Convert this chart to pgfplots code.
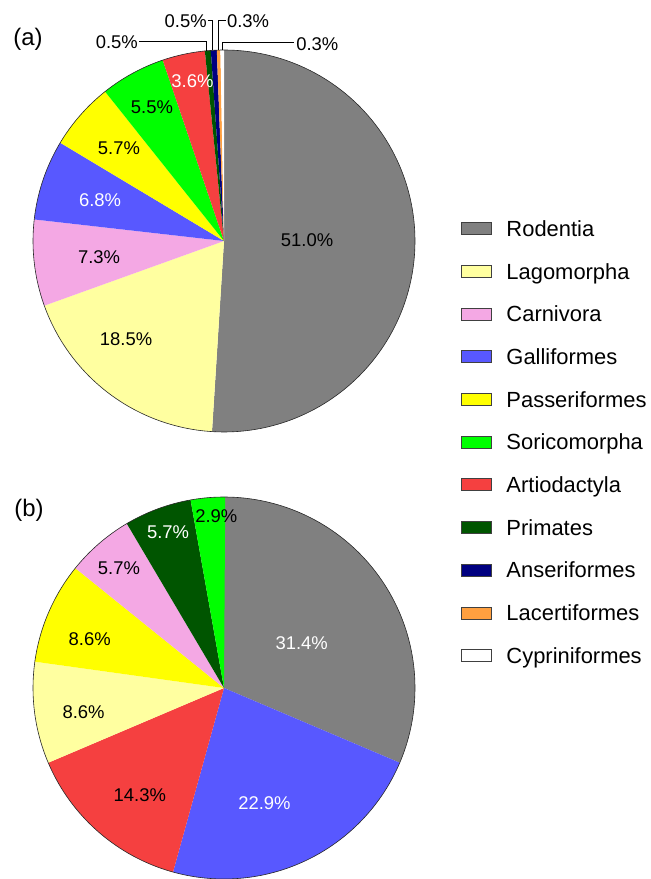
\documentclass[border=0pt]{standalone}
\usepackage{fontspec}
\setmainfont{Liberation Sans}
\usepackage{pgfplots}
\pgfplotsset{compat=1.18}
\definecolor{cRod}{RGB}{128,128,128}
\definecolor{cLag}{RGB}{255,255,160}
\definecolor{cCar}{RGB}{244,168,228}
\definecolor{cGal}{RGB}{88,88,255}
\definecolor{cPas}{RGB}{255,255,0}
\definecolor{cSor}{RGB}{0,255,0}
\definecolor{cArt}{RGB}{245,64,64}
\definecolor{cPri}{RGB}{0,85,0}
\definecolor{cAns}{RGB}{0,0,128}
\definecolor{cLac}{RGB}{255,160,64}
\definecolor{cCyp}{RGB}{255,255,255}
% running total of percentages; each slice is drawn from its percentage
\newcommand\cum{0}
\newcommand\slice[2]{%
  \pgfmathsetmacro\aA{90-3.6*\cum}%
  \pgfmathsetmacro\cumnew{\cum+#2}%
  \pgfmathsetmacro\aB{90-3.6*\cumnew}%
  \xdef\cum{\cumnew}%
  \edef\tmp{\noexpand\addplot[fill=#1,draw=none,domain=\aB:\aA,samples=90] ({cos(x)},{sin(x)}) -- (axis cs:0,0) -- cycle;}%
  \tmp}
\newcommand\lab{\fontsize{18.5}{22}\selectfont}
\begin{document}
\begin{tikzpicture}
\useasboundingbox (0,0) rectangle (651bp,879bp);
\pgfplotsset{pie/.style={hide axis, clip=false, x=191bp, y=191bp,
  xmin=-1, xmax=1, ymin=-1, ymax=1, anchor=origin}}
% ---------------- (a) ----------------
\begin{axis}[pie, at={(224bp,638bp)},
  legend style={draw=none, fill=none, at={(1.1204,0.5592)}, anchor=north west,
    inner sep=0pt, outer sep=0pt, row sep=22.5bp, column sep=15bp,
    font=\fontsize{22}{26}\selectfont,
    nodes={inner sep=0pt, text height=18bp, text depth=2.2bp}},
  legend cell align=left,
  legend image code/.code={\draw[#1,draw=black!75,line width=0.5pt] (0bp,-6bp) rectangle (30bp,6bp);}]
\gdef\cum{0}
\slice{cRod}{51.0} \addlegendentry{Rodentia}
\slice{cLag}{18.5} \addlegendentry{Lagomorpha}
\slice{cCar}{7.3}  \addlegendentry{Carnivora}
\slice{cGal}{6.8}  \addlegendentry{Galliformes}
\slice{cPas}{5.7}  \addlegendentry{Passeriformes}
\slice{cSor}{5.5}  \addlegendentry{Soricomorpha}
\slice{cArt}{3.6}  \addlegendentry{Artiodactyla}
\slice{cPri}{0.5}  \addlegendentry{Primates}
\slice{cAns}{0.5}  \addlegendentry{Anseriformes}
\slice{cLac}{0.3}  \addlegendentry{Lacertiformes}
\slice{cCyp}{0.3}  \addlegendentry{Cypriniformes}
\addplot[black!85, line width=0.6pt, domain=0:360, samples=241, forget plot] ({cos(x)},{sin(x)});
\node[font=\lab] at (axis cs:0.435,0.005) {51.0\%};
\node[font=\lab] at (axis cs:-0.513,-0.513) {18.5\%};
\node[font=\lab] at (axis cs:-0.654,-0.084) {7.3\%};
\node[font=\lab,text=white] at (axis cs:-0.649,0.215) {6.8\%};
\node[font=\lab] at (axis cs:-0.55,0.487) {5.7\%};
\node[font=\lab] at (axis cs:-0.377,0.70) {5.5\%};
\node[font=\lab,text=white] at (axis cs:-0.165,0.838) {3.6\%};
% leader lines for the smallest slices
\draw[line width=1bp] (axis cs:-0.445,1.042) -- (axis cs:-0.094,1.042) -- (axis cs:-0.094,0.996);
\draw[line width=1bp] (axis cs:-0.084,1.152) -- (axis cs:-0.058,1.152) -- (axis cs:-0.058,0.998);
\draw[line width=1bp] (axis cs:-0.031,0.999) -- (axis cs:-0.031,1.152) -- (axis cs:0.010,1.152);
\draw[line width=1bp] (axis cs:-0.010,1.0) -- (axis cs:-0.010,1.037) -- (axis cs:0.366,1.037);
\node[font=\lab,anchor=east,inner sep=1bp] at (axis cs:-0.445,1.042) {0.5\%};
\node[font=\lab,anchor=east,inner sep=1bp] at (axis cs:-0.084,1.152) {0.5\%};
\node[font=\lab,anchor=west,inner sep=1bp] at (axis cs:0.010,1.152) {0.3\%};
\node[font=\lab,anchor=west,inner sep=1bp] at (axis cs:0.372,1.032) {0.3\%};
\end{axis}
% ---------------- (b) ----------------
\begin{axis}[pie, at={(224bp,191bp)}]
\gdef\cum{0}
\slice{cRod}{31.4}
\slice{cGal}{22.9}
\slice{cArt}{14.3}
\slice{cLag}{8.6}
\slice{cPas}{8.6}
\slice{cCar}{5.7}
\slice{cPri}{5.7}
\slice{cSor}{2.9}
\addplot[black!85, line width=0.6pt, domain=0:360, samples=241, forget plot] ({cos(x)},{sin(x)});
\node[font=\lab,text=white] at (axis cs:0.407,0.236) {31.4\%};
\node[font=\lab,text=white] at (axis cs:0.212,-0.602) {22.9\%};
\node[font=\lab] at (axis cs:-0.441,-0.560) {14.3\%};
\node[font=\lab] at (axis cs:-0.735,-0.129) {8.6\%};
\node[font=\lab] at (axis cs:-0.703,0.255) {8.6\%};
\node[font=\lab] at (axis cs:-0.55,0.627) {5.7\%};
\node[font=\lab,text=white] at (axis cs:-0.293,0.815) {5.7\%};
\node[font=\lab] at (axis cs:-0.04,0.90) {2.9\%};
\end{axis}
\node[font=\fontsize{24}{28}\selectfont] at (28bp,840bp) {(a)};
\node[font=\fontsize{24}{28}\selectfont] at (29bp,369bp) {(b)};
\end{tikzpicture}
\end{document}
